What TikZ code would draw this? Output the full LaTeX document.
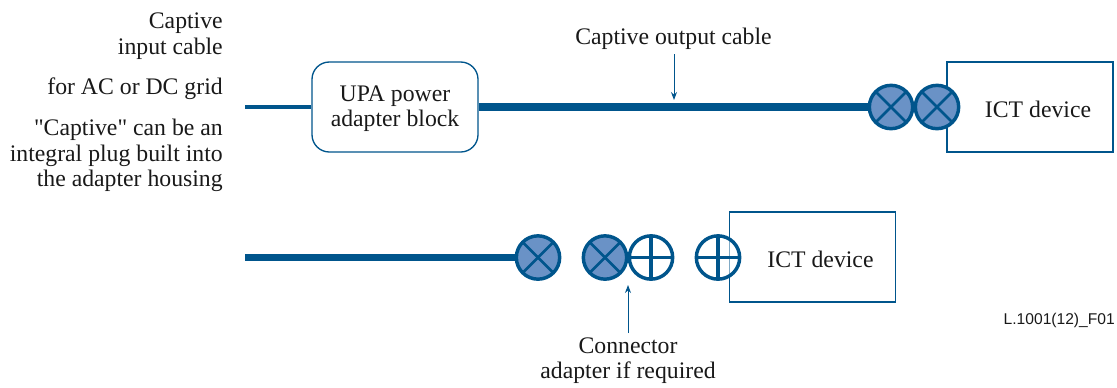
\documentclass[tikz,border=0pt]{standalone}
\usepackage{fontspec}
\newfontfamily\serifplain{Liberation Serif}
\newfontfamily\labelfont{Liberation Sans}
\usetikzlibrary{arrows.meta}
\definecolor{cable_blue}{HTML}{00558C}
\definecolor{plug_blue}{HTML}{6A92C6}
\begin{document}
\begin{tikzpicture}[
  x=0.75pt, y=-0.75pt,
  every node/.style={font=\fontsize{17.8pt}{19.2pt}\serifplain, text=black!90, inner sep=0pt},
  thin_box/.style={rectangle, draw=cable_blue, line width=1pt, minimum width=124.5pt, minimum height=67.5pt},
  round_box/.style={thin_box, rounded corners=13pt},
  note_text/.style={align=right, left},
  plug_cross/.style={circle, draw=cable_blue, line width=2.6pt, fill=plug_blue, minimum size=32.5pt, path picture={
    \draw[cable_blue, line width=2pt] (path picture bounding box.north west) -- (path picture bounding box.south east);
    \draw[cable_blue, line width=2pt] (path picture bounding box.north east) -- (path picture bounding box.south west);}},
  plug_plus/.style={circle, draw=cable_blue, line width=2.6pt, fill=white, fill opacity=0.5, minimum size=32.5pt, path picture={
    \draw[cable_blue, line width=2.6pt] (path picture bounding box.north) -- (path picture bounding box.south);
    \draw[cable_blue, line width=2.6pt] (path picture bounding box.east) -- (path picture bounding box.west);}},
  thick_cable/.style={cable_blue, line width=5.6pt},
  thin_cable/.style={cable_blue, line width=3pt},
  label_arrow/.style={cable_blue, line width=0.7pt, -{Stealth[length=6pt, width=4.5pt]}},
]
\useasboundingbox (0,0) rectangle (1117,387);
\draw (223,36) node (input_note) [note_text] {Captive\\input cable};
\draw (223,89) node (grid_note) [note_text] {for AC or DC grid};
\draw (223,155.5) node (captive_note) [note_text] {"Captive" can be an\\integral plug built into\\the adapter housing};
\draw (395,107) node (upa_block) [round_box] {};
\draw (395,108.5) node (upa_text) [align=center] {UPA power\\adapter block};
\draw (1030,107) node (device_a) [thin_box] {};
\draw (1038,109) node (device_a_text) {ICT device};
\draw (812.5,257) node (device_b) [thin_box] {};
\draw (820.5,259) node (device_b_text) {ICT device};
\coordinate (input_end) at (245,107);
\coordinate (lower_end) at (245,257.5);
\draw[thin_cable] (input_end) -- (upa_block.west);
\draw (891,107) node (plug_a) [plug_cross] {};
\draw (937,107) node (plug_b) [plug_cross] {};
\draw (538,257.5) node (plug_c) [plug_cross] {};
\draw (605,257.5) node (plug_d) [plug_cross] {};
\draw (651,257.5) node (plug_e) [plug_plus] {};
\draw (718,257.5) node (plug_f) [plug_plus] {};
\draw[thick_cable] (upa_block.east) -- (plug_a.west);
\draw[thick_cable] (lower_end) -- (plug_c.west);
\draw (673.5,39) node (output_label) {Captive output cable};
\coordinate (output_tip) at (674,100);
\draw[label_arrow] (output_label.south -| output_tip) ++(0,4) -- (output_tip);
\draw (628,360.5) node (adapter_label) [align=center] {Connector\\adapter if required};
\coordinate (adapter_tip) at (628,285);
\draw[label_arrow] (adapter_label.north) ++(0,-4) -- (adapter_tip);
\draw (1115,320) node (figure_id) [left, font=\fontsize{11.7pt}{12pt}\labelfont] {L.1001(12)\_F01};
\end{tikzpicture}
\end{document}
